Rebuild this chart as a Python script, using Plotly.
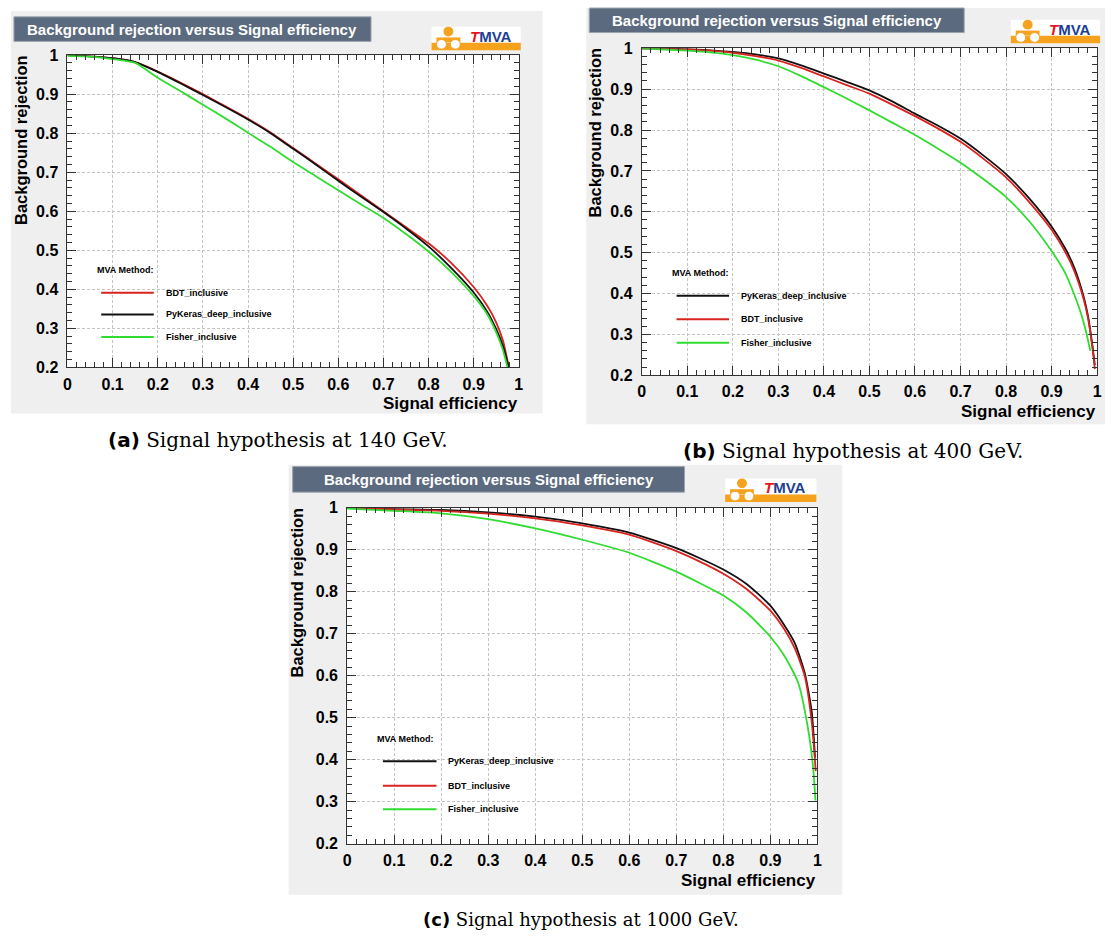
import plotly.graph_objects as go

W, H = 1115, 945

# ---------------- data ----------------
# (a) Signal hypothesis at 140 GeV
eff_a = [0, 0.05, 0.1, 0.15, 0.2, 0.25, 0.3, 0.35, 0.4, 0.45, 0.5, 0.55, 0.6, 0.65,
         0.7, 0.75, 0.8, 0.85, 0.9, 0.93, 0.95, 0.965, 0.978]
bdt_a = [1.0, 0.997, 0.992, 0.982, 0.958, 0.93, 0.9, 0.869, 0.837, 0.802, 0.762, 0.722,
         0.682, 0.641, 0.600, 0.559, 0.518, 0.468, 0.406, 0.358, 0.315, 0.268, 0.2]
keras_a = [1.0, 0.997, 0.992, 0.982, 0.957, 0.928, 0.898, 0.867, 0.835, 0.800, 0.760, 0.720,
           0.678, 0.638, 0.598, 0.556, 0.510, 0.455, 0.392, 0.343, 0.298, 0.254, 0.2]
eff_a_fisher = [0, 0.05, 0.1, 0.15, 0.2, 0.25, 0.3, 0.35, 0.4, 0.45, 0.5, 0.55, 0.6, 0.65,
                0.7, 0.75, 0.8, 0.85, 0.9, 0.93, 0.95, 0.964, 0.975]
fisher_a = [0.998, 0.996, 0.99, 0.98, 0.942, 0.908, 0.873, 0.838, 0.801, 0.765, 0.726, 0.69,
            0.654, 0.618, 0.583, 0.542, 0.497, 0.445, 0.383, 0.336, 0.29, 0.247, 0.2]

# (b) Signal hypothesis at 400 GeV
eff_b = [0, 0.05, 0.1, 0.15, 0.2, 0.25, 0.3, 0.35, 0.4, 0.45, 0.5, 0.55, 0.6, 0.65, 0.7,
         0.75, 0.8, 0.85, 0.9, 0.93, 0.95, 0.97, 0.98, 0.99, 0.995]
keras_b = [1.0, 0.999, 0.998, 0.995, 0.991, 0.985, 0.975, 0.958, 0.938, 0.918, 0.897, 0.87,
           0.84, 0.811, 0.779, 0.738, 0.692, 0.634, 0.564, 0.51, 0.463, 0.394, 0.345, 0.27, 0.225]
bdt_b = [1.0, 0.999, 0.997, 0.994, 0.989, 0.981, 0.97, 0.952, 0.931, 0.91, 0.889, 0.862,
         0.834, 0.804, 0.771, 0.73, 0.684, 0.625, 0.556, 0.502, 0.455, 0.388, 0.34, 0.265, 0.215]
eff_b_fisher = [0, 0.05, 0.1, 0.15, 0.2, 0.25, 0.3, 0.35, 0.4, 0.45, 0.5, 0.55, 0.6, 0.65,
                0.7, 0.75, 0.8, 0.85, 0.9, 0.93, 0.95, 0.965, 0.975, 0.985]
fisher_b = [1.0, 0.997, 0.994, 0.99, 0.983, 0.972, 0.956, 0.932, 0.905, 0.877, 0.848, 0.818,
            0.788, 0.755, 0.72, 0.68, 0.636, 0.578, 0.504, 0.45, 0.397, 0.35, 0.31, 0.26]

# (c) Signal hypothesis at 1000 GeV
eff_c = [0, 0.1, 0.2, 0.3, 0.4, 0.5, 0.6, 0.7, 0.75, 0.8, 0.85, 0.9, 0.93, 0.952, 0.973,
         0.988, 0.995]
keras_c = [1.0, 0.997, 0.995, 0.989, 0.979, 0.963, 0.941, 0.904, 0.88, 0.853, 0.818, 0.767,
           0.72, 0.678, 0.607, 0.514, 0.405]
eff_c_bdt = [0, 0.1, 0.2, 0.3, 0.4, 0.5, 0.6, 0.7, 0.75, 0.8, 0.85, 0.9, 0.93, 0.952, 0.973,
             0.988, 0.9965]
bdt_c = [1.0, 0.996, 0.993, 0.986, 0.975, 0.958, 0.936, 0.897, 0.872, 0.843, 0.806, 0.755,
         0.71, 0.665, 0.6, 0.49, 0.373]
eff_c_fisher = [0, 0.1, 0.2, 0.3, 0.4, 0.5, 0.6, 0.7, 0.8, 0.85, 0.9, 0.93, 0.959, 0.98,
                0.991, 0.996]
fisher_c = [0.998, 0.993, 0.987, 0.973, 0.951, 0.924, 0.893, 0.848, 0.791, 0.75, 0.693,
            0.647, 0.584, 0.475, 0.381, 0.303]

method_names = {"bdt": "BDT_inclusive", "keras": "PyKeras_deep_inclusive",
                "fisher": "Fisher_inclusive"}
captions = ["(a)", "(b)", "(c)"]
caption_texts = ["Signal hypothesis at 140 GeV.", "Signal hypothesis at 400 GeV.",
                 "Signal hypothesis at 1000 GeV."]
panel_title = "Background rejection versus Signal efficiency"
x_title = "Signal efficiency"
y_title = "Background rejection"

# ---------------- style / layout ----------------
COL = {"bdt": "#d8231e", "keras": "#111111", "fisher": "#2fdc2f"}
BOLD = "Liberation Sans"


def px(x):
    return x / W


def py(y):
    return 1 - y / H


panels = [
    dict(series=[("bdt", eff_a, bdt_a), ("keras", eff_a, keras_a), ("fisher", eff_a_fisher, fisher_a)],
         plot=(64, 48, 519, 366), bg=(7, 3, 543, 413), tbox=(10, 9, 370, 34),
         logo=(431, 19, 521, 43), leg=(92, 267, 98, 151, [290, 312, 335], 161),
         ytitle=(17, 46), xtitle_y=403, cap=(276, 440, 20)),
    dict(series=[("keras", eff_b, keras_b), ("bdt", eff_b, bdt_b), ("fisher", eff_b_fisher, fisher_b)],
         plot=(643, 41, 1102, 374), bg=(587, 0, 1110, 424), tbox=(590, 0, 968, 25),
         logo=(1015, 12, 1105, 36), leg=(671, 270, 678, 731, [293, 317, 341], 741),
         ytitle=(596, 38), xtitle_y=411, cap=(856, 451, 20)),
    dict(series=[("keras", eff_c, keras_c), ("bdt", eff_c_bdt, bdt_c), ("fisher", eff_c_fisher, fisher_c)],
         plot=(346, 509, 820, 851), bg=(287, 465, 845, 903), tbox=(291, 467, 686, 493),
         logo=(727, 479, 819, 503), leg=(374, 744, 382, 436, [767, 792, 816], 446),
         ytitle=(295, 507), xtitle_y=888, cap=(582, 928, 18)),
]

fig = go.Figure()
shapes = []
annotations = []
layout = dict(width=W, height=H, margin=dict(l=0, r=0, t=0, b=0),
              paper_bgcolor="white", plot_bgcolor="white", showlegend=False)

for i, p in enumerate(panels):
    n = "" if i == 0 else str(i + 1)
    x0, y0, x1, y1 = p["plot"]
    bx0, by0, bx1, by1 = p["bg"]
    # gray canvas
    shapes.append(dict(type="rect", xref="paper", yref="paper", layer="below",
                       x0=px(bx0), x1=px(bx1), y0=py(by1), y1=py(by0),
                       fillcolor="#efefef", line=dict(width=0)))
    shapes.append(dict(type="rect", xref="paper", yref="paper", layer="below",
                       x0=px(x0), x1=px(x1), y0=py(y1), y1=py(y0),
                       fillcolor="white", line=dict(width=0)))
    # title box
    tx0, ty0, tx1, ty1 = p["tbox"]
    shapes.append(dict(type="rect", xref="paper", yref="paper", layer="above",
                       x0=px(tx0), x1=px(tx1), y0=py(ty1), y1=py(ty0),
                       fillcolor="#5b6a7e", line=dict(color="#9aa4b0", width=1)))
    annotations.append(dict(xref="paper", yref="paper", x=px((tx0 + tx1) / 2), y=py((ty0 + ty1) / 2),
                            text="<b>%s</b>" % panel_title, showarrow=False,
                            font=dict(family=BOLD, size=15, color="white"),
                            xanchor="center", yanchor="middle"))
    # TMVA logo
    lx0, ly0, lx1, ly1 = p["logo"]
    lh = ly1 - ly0
    shapes.append(dict(type="rect", xref="paper", yref="paper", layer="above",
                       x0=px(lx0), x1=px(lx1), y0=py(ly1), y1=py(ly0),
                       fillcolor="white", line=dict(width=0)))
    shapes.append(dict(type="rect", xref="paper", yref="paper", layer="above",
                       x0=px(lx0), x1=px(lx1), y0=py(ly1), y1=py(ly0 + lh * 0.68),
                       fillcolor="#f6a21d", line=dict(width=0)))
    cx = lx0 + 17
    shapes.append(dict(type="circle", xref="paper", yref="paper", layer="above",
                       x0=px(cx - 5), x1=px(cx + 5), y0=py(ly0 + 10), y1=py(ly0),
                       fillcolor="#f6a21d", line=dict(width=0)))
    shapes.append(dict(type="rect", xref="paper", yref="paper", layer="above",
                       x0=px(cx - 12), x1=px(cx + 12), y0=py(ly0 + 16), y1=py(ly0 + 11),
                       fillcolor="#f6a21d", line=dict(width=0)))
    for dx in (-7, 7):
        shapes.append(dict(type="circle", xref="paper", yref="paper", layer="above",
                           x0=px(cx + dx - 5), x1=px(cx + dx + 5), y0=py(ly1 - 1), y1=py(ly1 - 11),
                           fillcolor="white", line=dict(color="#f6a21d", width=1)))
    annotations.append(dict(xref="paper", yref="paper", x=px(lx0 + 60), y=py(ly0 + lh * 0.4),
                            text="<b><span style='color:#e8141b'><i>T</i></span>MVA</b>",
                            showarrow=False, font=dict(family=BOLD, size=15, color="#1c3f94"),
                            xanchor="center", yanchor="middle"))

    # axes
    common_tick = dict(family=BOLD, size=16, color="black", weight="bold")
    layout["xaxis" + n] = dict(domain=[px(x0), px(x1)], anchor="y" + n, range=[0, 1],
                               dtick=0.1, tick0=0, ticks="inside", ticklen=9, tickcolor="#333",
                               mirror="ticks", showline=True, linecolor="#333", linewidth=1,
                               showgrid=True, gridcolor="#c4c4c4", griddash="3px,2px", gridwidth=1,
                               zeroline=False, tickfont=common_tick, ticklabelstandoff=2,
                               minor=dict(dtick=0.02, ticks="inside", ticklen=5,
                                          tickcolor="#333", showgrid=False))
    layout["yaxis" + n] = dict(domain=[py(y1), py(y0)], anchor="x" + n, range=[0.2, 1],
                               dtick=0.1, tick0=0, ticks="inside", ticklen=9, tickcolor="#333",
                               mirror="ticks", showline=True, linecolor="#333", linewidth=1,
                               showgrid=True, gridcolor="#c4c4c4", griddash="3px,2px", gridwidth=1,
                               zeroline=False, tickfont=common_tick, ticklabelstandoff=5,
                               minor=dict(dtick=0.02, ticks="inside", ticklen=5,
                                          tickcolor="#333", showgrid=False))
    # curves
    for key, xs, ys in p["series"]:
        fig.add_trace(go.Scatter(x=xs, y=ys, mode="lines", name=method_names[key],
                                 line=dict(color=COL[key], width=1.8, shape="spline", smoothing=0.6),
                                 xaxis="x" + n, yaxis="y" + n))
    # axis titles
    ytx, yty = p["ytitle"]
    annotations.append(dict(xref="paper", yref="paper", x=px(ytx), y=py(yty),
                            text="<b>%s</b>" % y_title, textangle=-90, showarrow=False,
                            font=dict(family=BOLD, size=16.5, color="black"),
                            xanchor="center", yanchor="top"))
    annotations.append(dict(xref="paper", yref="paper", x=px(x1 + 1), y=py(p["xtitle_y"]),
                            text="<b>%s</b>" % x_title, showarrow=False,
                            font=dict(family=BOLD, size=17, color="black"),
                            xanchor="right", yanchor="middle"))
    # legend
    hx, hy, lxa, lxb, lys, labx = p["leg"]
    annotations.append(dict(xref="paper", yref="paper", x=px(hx), y=py(hy),
                            text="<b>MVA Method:</b>", showarrow=False,
                            font=dict(family=BOLD, size=9, color="black"),
                            xanchor="left", yanchor="middle"))
    for (key, _, _), ly in zip(p["series"], lys):
        shapes.append(dict(type="line", xref="paper", yref="paper", layer="above",
                           x0=px(lxa), x1=px(lxb), y0=py(ly), y1=py(ly),
                           line=dict(color=COL[key], width=2)))
        annotations.append(dict(xref="paper", yref="paper", x=px(labx), y=py(ly),
                                text="<b>%s</b>" % method_names[key], showarrow=False,
                                font=dict(family=BOLD, size=9, color="black"),
                                xanchor="left", yanchor="middle"))
    # caption
    ccx, ccy, cs = p["cap"]
    annotations.append(dict(xref="paper", yref="paper", x=px(ccx), y=py(ccy),
                            text="<b>%s</b> <span style='font-family:DejaVu Serif'>%s</span>"
                                 % (captions[i], caption_texts[i]),
                            showarrow=False, font=dict(family="DejaVu Sans", size=cs, color="black"),
                            xanchor="center", yanchor="middle"))

layout["shapes"] = shapes
layout["annotations"] = annotations
fig.update_layout(**layout)
fig.write_html("out.html")
